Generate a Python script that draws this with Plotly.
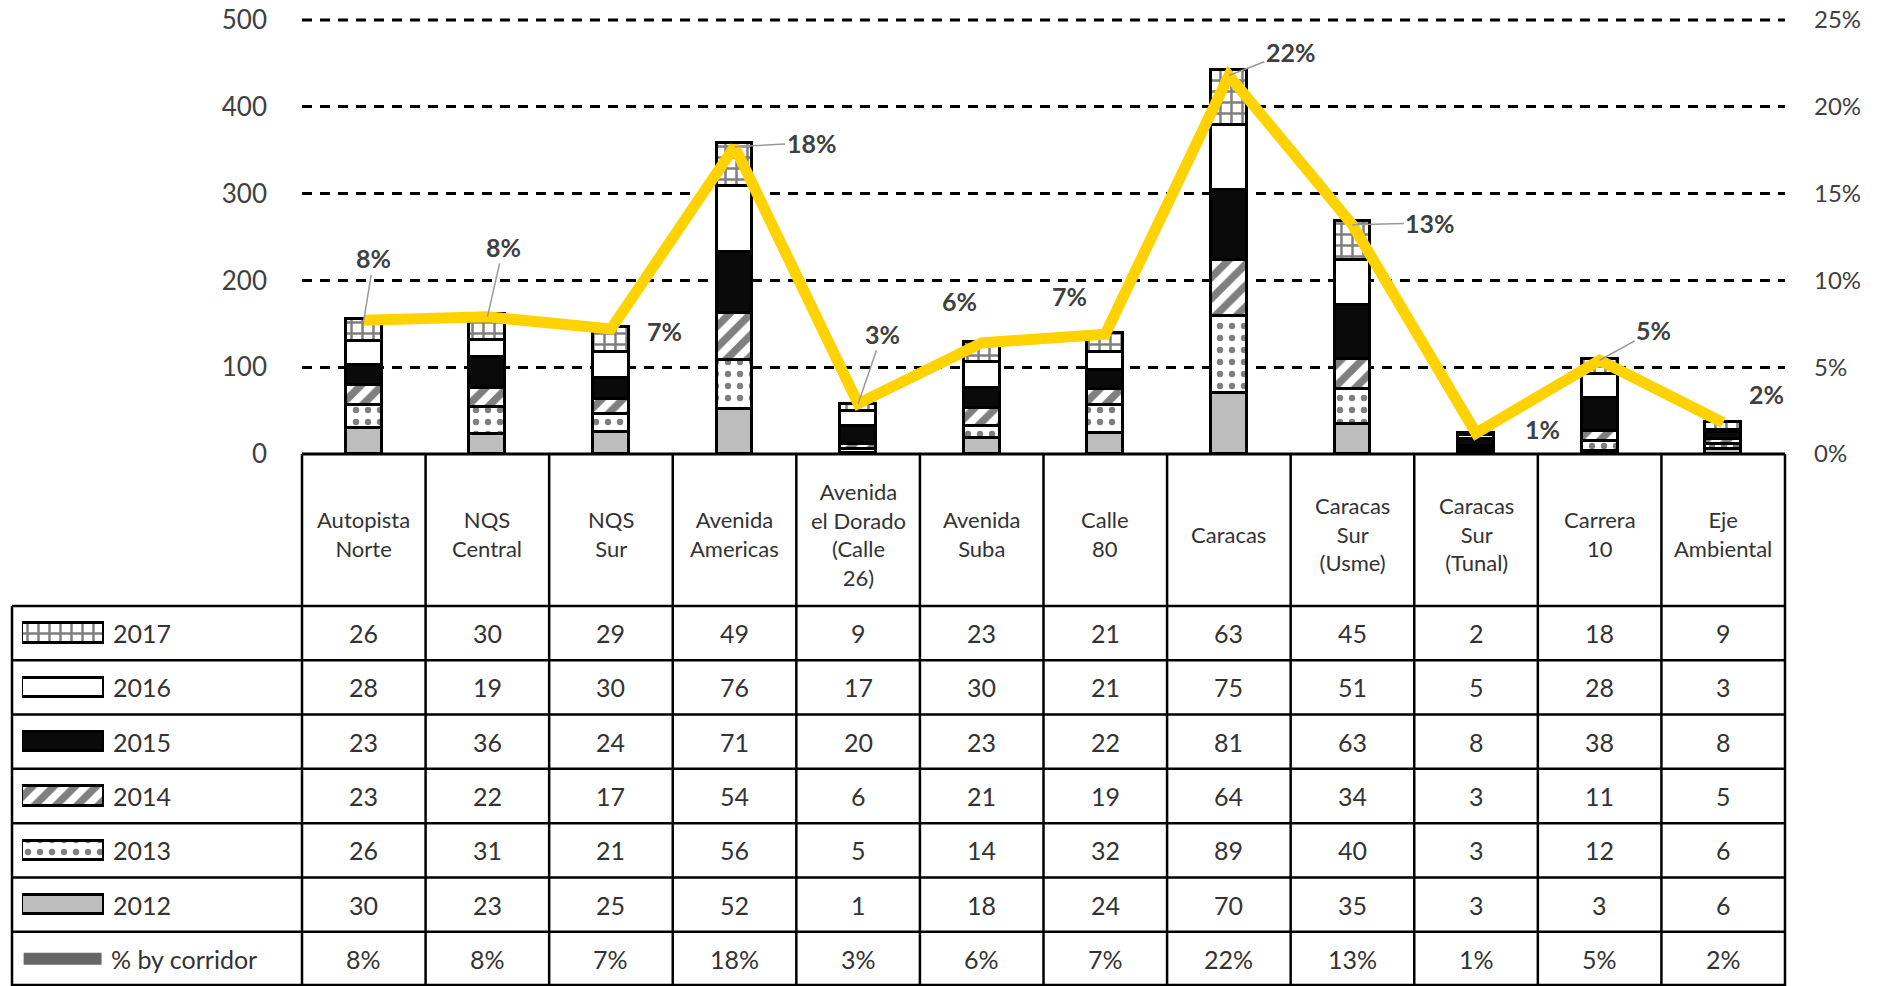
import plotly.graph_objects as go

W, H = 1878, 986

corridors = ["Autopista<br>Norte", "NQS<br>Central", "NQS<br>Sur", "Avenida<br>Americas",
             "Avenida<br>el Dorado<br>(Calle<br>26)", "Avenida<br>Suba", "Calle<br>80", "Caracas",
             "Caracas<br>Sur<br>(Usme)", "Caracas<br>Sur<br>(Tunal)", "Carrera<br>10", "Eje<br>Ambiental"]
years = ["2017", "2016", "2015", "2014", "2013", "2012"]
v2017 = [26, 30, 29, 49, 9, 23, 21, 63, 45, 2, 18, 9]
v2016 = [28, 19, 30, 76, 17, 30, 21, 75, 51, 5, 28, 3]
v2015 = [23, 36, 24, 71, 20, 23, 22, 81, 63, 8, 38, 8]
v2014 = [23, 22, 17, 54, 6, 21, 19, 64, 34, 3, 11, 5]
v2013 = [26, 31, 21, 56, 5, 14, 32, 89, 40, 3, 12, 6]
v2012 = [30, 23, 25, 52, 1, 18, 24, 70, 35, 3, 3, 6]
pct_line = [7.7, 7.9, 7.2, 17.7, 2.9, 6.4, 6.9, 21.8, 13.2, 1.2, 5.4, 1.8]
pct_labels = ["8%", "8%", "7%", "18%", "3%", "6%", "7%", "22%", "13%", "1%", "5%", "2%"]
left_ticks = [0, 100, 200, 300, 400, 500]
right_ticks = [0, 5, 10, 15, 20, 25]
right_ticktext = ["0%", "5%", "10%", "15%", "20%", "25%"]

values = {"2017": v2017, "2016": v2016, "2015": v2015, "2014": v2014, "2013": v2013, "2012": v2012}

FONT = "Lato"
TXT = "#333333"

styles = {
    "2012": dict(color="#bdbdbd", pattern=dict(shape="")),
    "2013": dict(color="white", pattern=dict(shape=".", fgcolor="black", bgcolor="white", size=12, solidity=0.22)),
    "2014": dict(color="white", pattern=dict(shape="/", fgcolor="black", bgcolor="white", size=15, solidity=0.5)),
    "2015": dict(color="#0a0a0a", pattern=dict(shape="")),
    "2016": dict(color="white", pattern=dict(shape="")),
    "2017": dict(color="white", pattern=dict(shape="+", fgcolor="black", bgcolor="white", size=11, solidity=0.4)),
}

def px(x):
    return x / W

def py(y):
    return 1 - y / H

PL, PR, PT, PB = 302, 1785, 20, 454
colw = (PR - PL) / 12
row_top = 606
rowh = (986 - 606) / 7

fig = go.Figure()
xcats = list(range(12))

for yr in ["2012", "2013", "2014", "2015", "2016", "2017"]:
    st = styles[yr]
    fig.add_trace(go.Bar(
        x=xcats, y=values[yr], name=yr, width=0.29,
        marker=dict(color=st["color"], pattern=st["pattern"], line=dict(color="black", width=3)),
        showlegend=False, xaxis="x", yaxis="y"))

fig.add_trace(go.Scatter(x=xcats, y=pct_line, mode="lines", line=dict(color="#FFD200", width=11),
                         xaxis="x", yaxis="y2", showlegend=False))

# key swatches in the table legend column
for i, yr in enumerate(years):
    st = styles[yr]
    fig.add_trace(go.Bar(
        x=[1], y=[i], orientation="h", width=0.36,
        marker=dict(color=st["color"], pattern=st["pattern"], line=dict(color="black", width=3)),
        showlegend=False, xaxis="x3", yaxis="y3"))
fig.add_trace(go.Scatter(x=[0.02, 0.97], y=[6, 6], mode="lines", line=dict(color="#666666", width=12),
                         showlegend=False, xaxis="x3", yaxis="y3"))

shapes = []
LW = 2.5
# top gridline at 500 (edge gridline is not drawn by the axis)
shapes.append(dict(type="line", xref="paper", yref="paper", x0=px(PL), x1=px(PR), y0=py(PT), y1=py(PT),
                   line=dict(color="black", width=3, dash="10px,8px"), layer="below"))
shapes.append(dict(type="line", xref="paper", yref="paper", x0=px(PL), x1=px(PR), y0=py(PB), y1=py(PB),
                   line=dict(color="black", width=3)))
for k in range(8):
    yy = row_top + k * rowh
    if k == 7:
        yy = 985
    shapes.append(dict(type="line", xref="paper", yref="paper", x0=px(12), x1=px(PR), y0=py(yy), y1=py(yy),
                       line=dict(color="black", width=LW)))
for i in range(13):
    xx = PL + i * colw
    shapes.append(dict(type="line", xref="paper", yref="paper", x0=px(xx), x1=px(xx), y0=py(PB), y1=py(986),
                       line=dict(color="black", width=LW)))
shapes.append(dict(type="line", xref="paper", yref="paper", x0=px(12), x1=px(12), y0=py(row_top), y1=py(986),
                   line=dict(color="black", width=LW)))

ann = []
for i, c in enumerate(corridors):
    ann.append(dict(xref="paper", yref="paper", x=px(PL + (i + 0.5) * colw), y=py(534), text=c,
                    showarrow=False, font=dict(family=FONT, size=22, color=TXT), xanchor="center",
                    yanchor="middle"))
for k, yr in enumerate(years):
    yc = row_top + (k + 0.5) * rowh
    ann.append(dict(xref="paper", yref="paper", x=px(111), y=py(yc), text=yr, showarrow=False,
                    font=dict(family=FONT, size=25, color=TXT), xanchor="left", yanchor="middle"))
    for i in range(12):
        ann.append(dict(xref="paper", yref="paper", x=px(PL + (i + 0.5) * colw), y=py(yc),
                        text=str(values[yr][i]), showarrow=False,
                        font=dict(family=FONT, size=25, color=TXT), xanchor="center", yanchor="middle"))
yc = row_top + 6.5 * rowh
ann.append(dict(xref="paper", yref="paper", x=px(109), y=py(yc), text="% by corridor", showarrow=False,
                font=dict(family=FONT, size=25, color=TXT), xanchor="left", yanchor="middle"))
for i in range(12):
    ann.append(dict(xref="paper", yref="paper", x=px(PL + (i + 0.5) * colw), y=py(yc), text=pct_labels[i],
                    showarrow=False, font=dict(family=FONT, size=25, color=TXT), xanchor="center",
                    yanchor="middle"))

offs = [(10, -62, True), (16, -70, True), (54, 2, False), (77, -4, True), (24, -70, True), (-22, -42, False),
        (-36, -38, False), (62, -24, True), (78, -2, True), (66, -4, False), (54, -30, True), (43, -29, False)]
for i, (dx, dy, arr) in enumerate(offs):
    d = dict(xref="x", yref="y2", x=i, y=pct_line[i], text="<b>" + pct_labels[i] + "</b>",
             font=dict(family=FONT, size=25, color="#404040"))
    if arr:
        d.update(showarrow=True, ax=dx, ay=dy, arrowhead=0, arrowwidth=1.5, arrowcolor="#999999")
    else:
        d.update(showarrow=False, xshift=dx, yshift=-dy)
    ann.append(d)

fig.update_layout(
    width=W, height=H, margin=dict(l=0, r=0, t=0, b=0, autoexpand=False),
    paper_bgcolor="white", plot_bgcolor="white", barmode="stack", bargap=0,
    font=dict(family=FONT, color="#404040"),
    xaxis=dict(domain=[px(PL), px(PR)], range=[-0.5, 11.5], showticklabels=False, showgrid=False,
               zeroline=False, showline=False, anchor="y", automargin=False),
    yaxis=dict(domain=[py(PB), py(PT)], range=[0, 500], tickvals=left_ticks, showgrid=True,
               gridcolor="black", gridwidth=3, griddash="10px,8px", zeroline=False, showline=False,
               tickfont=dict(family=FONT, size=26, color="#404040"), ticks="", ticklabelstandoff=34,
               anchor="x", automargin=False),
    yaxis2=dict(overlaying="y", side="right", range=[0, 25], tickvals=right_ticks,
                ticktext=right_ticktext, tickmode="array",
                showgrid=False, zeroline=False, showline=False, anchor="x", automargin=False,
                tickfont=dict(family=FONT, size=24, color="#404040"), ticklabelstandoff=28),
    xaxis3=dict(domain=[px(22), px(104)], range=[0, 1], visible=False, anchor="y3", automargin=False),
    yaxis3=dict(domain=[py(986), py(row_top)], range=[6.5, -0.5], visible=False, anchor="x3",
                automargin=False),
    shapes=shapes, annotations=ann,
)

fig.write_html("out.html")
